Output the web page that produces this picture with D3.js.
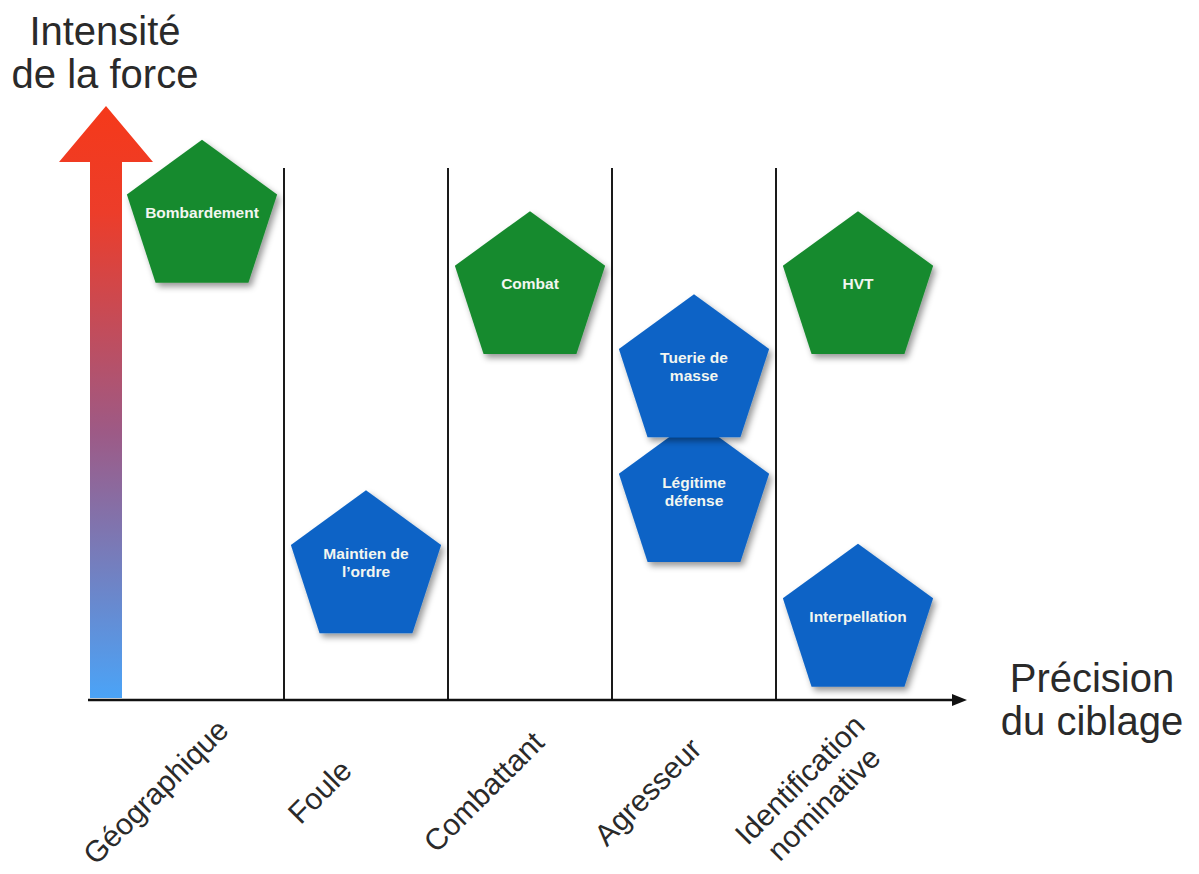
<!DOCTYPE html>
<html>
<head>
<meta charset="utf-8">
<script src="https://cdn.jsdelivr.net/npm/d3@7"></script>
<style>
  body { margin: 0; background: #fff; }
  text { font-family: "Liberation Sans", Helvetica, Arial, sans-serif; }
</style>
</head>
<body>
<div class="canvas"></div>
<script>
// categories along the x axis (précision du ciblage)
const categories = ["Géographique", "Foule", "Combattant", "Agresseur", "Identification\nnominative"];

// one pentagon per action
const actions = ["Bombardement", "Maintien de\nl’ordre", "Combat", "Légitime\ndéfense", "Tuerie de\nmasse", "HVT", "Interpellation"];
const actionCategory = [0, 1, 2, 3, 3, 4, 4];
const intensity = [81, 22, 69, 34, 55, 69, 13];   // 0 = faible, 100 = maximale
const actionType = ["militaire", "police", "militaire", "police", "police", "militaire", "police"];

const dims = { width: 1199, height: 874 };
const plot = { left: 120, right: 940, top: 106, bottom: 700 };
const R = 79;

const colour = d3.scaleOrdinal()
    .domain(["militaire", "police"])
    .range(["#178a2e", "#0c64c6"]);

const svg = d3.select('.canvas')
    .append('svg')
    .attr('width', dims.width)
    .attr('height', dims.height);

const defs = svg.append('defs');

const grad = defs.append('linearGradient')
    .attr('id', 'force')
    .attr('gradientUnits', 'userSpaceOnUse')
    .attr('x1', 0).attr('x2', 0)
    .attr('y1', plot.top).attr('y2', plot.bottom);
grad.append('stop').attr('offset', '0%').attr('stop-color', '#f5391a');
grad.append('stop').attr('offset', '18%').attr('stop-color', '#ec3d2a');
grad.append('stop').attr('offset', '55%').attr('stop-color', '#9d5a86');
grad.append('stop').attr('offset', '100%').attr('stop-color', '#4aa4f8');

defs.append('filter')
    .attr('id', 'shadow')
    .attr('x', '-20%').attr('y', '-20%')
    .attr('width', '150%').attr('height', '150%')
  .append('feDropShadow')
    .attr('dx', 3).attr('dy', 4)
    .attr('stdDeviation', 3)
    .attr('flood-color', '#000')
    .attr('flood-opacity', 0.4);

const x = d3.scaleBand()
    .domain(categories)
    .range([plot.left, plot.right])
    .paddingInner(0);

const y = d3.scaleLinear()
    .domain([0, 100])
    .range([plot.bottom, plot.top]);

// vertical separators between categories
const bounds = categories.slice(1).map(c => x(c));
svg.append('g')
    .selectAll('line')
    .data(bounds)
    .enter()
    .append('line')
    .attr('x1', d => d).attr('x2', d => d)
    .attr('y1', 168).attr('y2', y(0))
    .attr('stroke', '#1a1a1a')
    .attr('stroke-width', 2);

// vertical arrow: intensité de la force
const ax = 106, shaftW = 32, headW = 94, headH = 56;
const arrowPts = [
    [ax - shaftW / 2, y(0) - 2],
    [ax - shaftW / 2, y(100) + headH],
    [ax - headW / 2, y(100) + headH],
    [ax, y(100)],
    [ax + headW / 2, y(100) + headH],
    [ax + shaftW / 2, y(100) + headH],
    [ax + shaftW / 2, y(0) - 2]
];
svg.append('path')
    .attr('d', d3.line()(arrowPts) + 'Z')
    .attr('fill', 'url(#force)');

// horizontal axis with arrow
svg.append('line')
    .attr('x1', 88).attr('x2', 956)
    .attr('y1', y(0)).attr('y2', y(0))
    .attr('stroke', '#111')
    .attr('stroke-width', 2.5);
svg.append('path')
    .attr('d', d3.line()([[952, y(0) - 6], [967, y(0)], [952, y(0) + 6]]) + 'Z')
    .attr('fill', '#111');

// axis titles
const title = (lines, tx, ty) => {
    const t = svg.append('text')
        .attr('text-anchor', 'middle')
        .attr('font-size', 40)
        .attr('fill', '#2a2a2a');
    lines.forEach((l, i) => {
        t.append('tspan').attr('x', tx).attr('y', ty + i * 43).text(l);
    });
};
title(["Intensité", "de la force"], 105, 45);
title(["Précision", "du ciblage"], 1092, 692);

// category labels, rotated
const catG = svg.append('g')
    .selectAll('g')
    .data(categories)
    .enter()
    .append('g')
    .attr('transform', d => `translate(${x(d) + x.bandwidth() / 2 - 46}, 792) rotate(-45)`);
catG.each(function(d) {
    const lines = d.split('\n');
    const t = d3.select(this).append('text')
        .attr('text-anchor', 'middle')
        .attr('font-size', 30)
        .attr('fill', '#2a2a2a');
    lines.forEach((l, i) => {
        t.append('tspan')
            .attr('x', 0)
            .attr('y', (i - (lines.length - 1) / 2) * 34 + 10)
            .text(l);
    });
});

// pentagons
const pentagon = (cx, cy) => d3.range(5).map(k => {
    const a = (-90 + 72 * k) * Math.PI / 180;
    return [cx + R * Math.cos(a), cy + R * Math.sin(a)];
});

const data = actions.map((a, i) => ({
    label: a,
    cat: categories[actionCategory[i]],
    value: intensity[i],
    type: actionType[i]
}));

const shapes = svg.append('g')
    .selectAll('g')
    .data(data)
    .enter()
    .append('g');

shapes.append('path')
    .attr('d', d => d3.line()(pentagon(x(d.cat) + x.bandwidth() / 2, y(d.value))) + 'Z')
    .attr('fill', d => colour(d.type))
    .attr('filter', 'url(#shadow)');

shapes.each(function(d) {
    const lines = d.label.split('\n');
    const cx = x(d.cat) + x.bandwidth() / 2;
    const cy = y(d.value) - 6;
    const t = d3.select(this).append('text')
        .attr('text-anchor', 'middle')
        .attr('font-size', 15.5)
        .attr('font-weight', 'bold')
        .attr('fill', '#f2f6f0');
    lines.forEach((l, i) => {
        t.append('tspan')
            .attr('x', cx)
            .attr('y', cy + (i - (lines.length - 1) / 2) * 18 + 5)
            .text(l);
    });
});
</script>
</body>
</html>
